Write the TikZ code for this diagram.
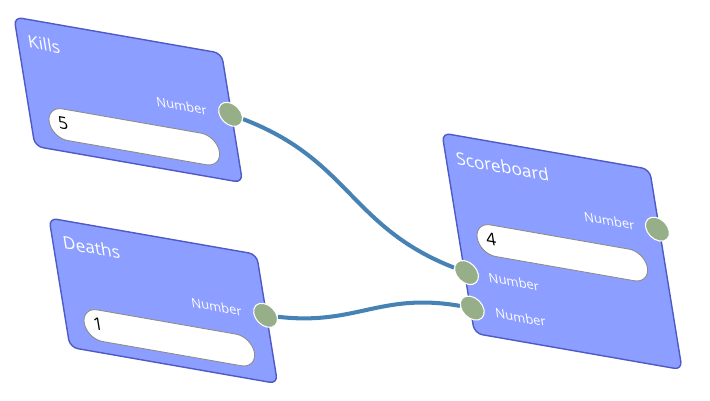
\documentclass[tikz,border=0pt]{standalone}
\usepackage{fontspec}
\setmainfont{Open Sans}
\usetikzlibrary{shapes.misc,backgrounds}

\definecolor{blockblue}{HTML}{8C9EFF}
\definecolor{blockedge}{HTML}{4F5BC4}
\definecolor{portgreen}{HTML}{96AF88}
\definecolor{wireblue}{HTML}{4682B4}

\def\unit{0.02cm}

\begin{document}
\begin{tikzpicture}
[x=\unit, y=-\unit,
every node/.style={transform shape},
skewed/.style={cm={0.984,-0.172,-0.16,0.987,(#1)}},
block/.style={
  fill=blockblue, draw=blockedge, line width=.8pt, rounded corners=8*\unit,
  minimum width=211*\unit, inner sep=0pt
},
title/.style={
  text=white, font=\fontsize{10}{12}\selectfont, anchor=west, inner sep=0pt
},
portlabel/.style={
  text=white, font=\fontsize{7.5}{9}\selectfont, inner sep=0pt
},
field/.style={
  rounded rectangle, fill=white, draw=gray!90, line width=.5pt,
  minimum width=173*\unit, minimum height=32*\unit, inner sep=0pt
},
value/.style={
  font=\fontsize{10}{12}\selectfont, anchor=west, inner sep=0pt
},
port/.style={
  circle, fill=portgreen, draw=white, line width=.6pt,
  minimum size=24*\unit, inner sep=0pt
},
wire/.style={
  draw=wireblue, line width=2.3pt
}
]
\useasboundingbox (0,0) rectangle (710,400);

% Kills
\begin{scope}[skewed={14,17}]
\node[block, minimum height=131*\unit] (kills) at (105.5,65.5) {};
\node[title] (kills title) at (10,23) {Kills};
\node[portlabel, anchor=east] (kills label) at (186,62) {Number};
\node[field] (kills field) at (105.5,103) {};
\node[value] (kills value) at (28,102) {5};
\node[port] (kills out) at (210,62) {};
\end{scope}

% Deaths
\begin{scope}[skewed={49,218}]
\node[block, minimum height=131*\unit] (deaths) at (105.5,65.5) {};
\node[title] (deaths title) at (10,23) {Deaths};
\node[portlabel, anchor=east] (deaths label) at (186,62) {Number};
\node[field] (deaths field) at (105.5,103) {};
\node[value] (deaths value) at (28,102) {1};
\node[port] (deaths out) at (210,62) {};
\end{scope}

% Scoreboard
\begin{scope}[skewed={442,133}]
\node[block, minimum height=203*\unit] (score) at (105.5,101.5) {};
\node[title] (score title) at (10,24) {Scoreboard};
\node[portlabel, anchor=east] (score label) at (186,61) {Number};
\node[field] (score field) at (105.5,103) {};
\node[value] (score value) at (28,102) {4};
\node[port] (score out) at (209,61) {};
% inputs
\node[port] (score in a) at (2,141) {};
\node[portlabel, anchor=west] (score label a) at (24,142) {Number};
\node[port] (score in b) at (2,177) {};
\node[portlabel, anchor=west] (score label b) at (25,178) {Number};
\end{scope}

% wires
\begin{scope}[on background layer]
\draw[wire] (kills out) .. controls (350,160) and (350,227) .. (score in a);
\draw[wire] (deaths out) .. controls (356,326) and (380,292) .. (score in b);
\end{scope}

\end{tikzpicture}
\end{document}
